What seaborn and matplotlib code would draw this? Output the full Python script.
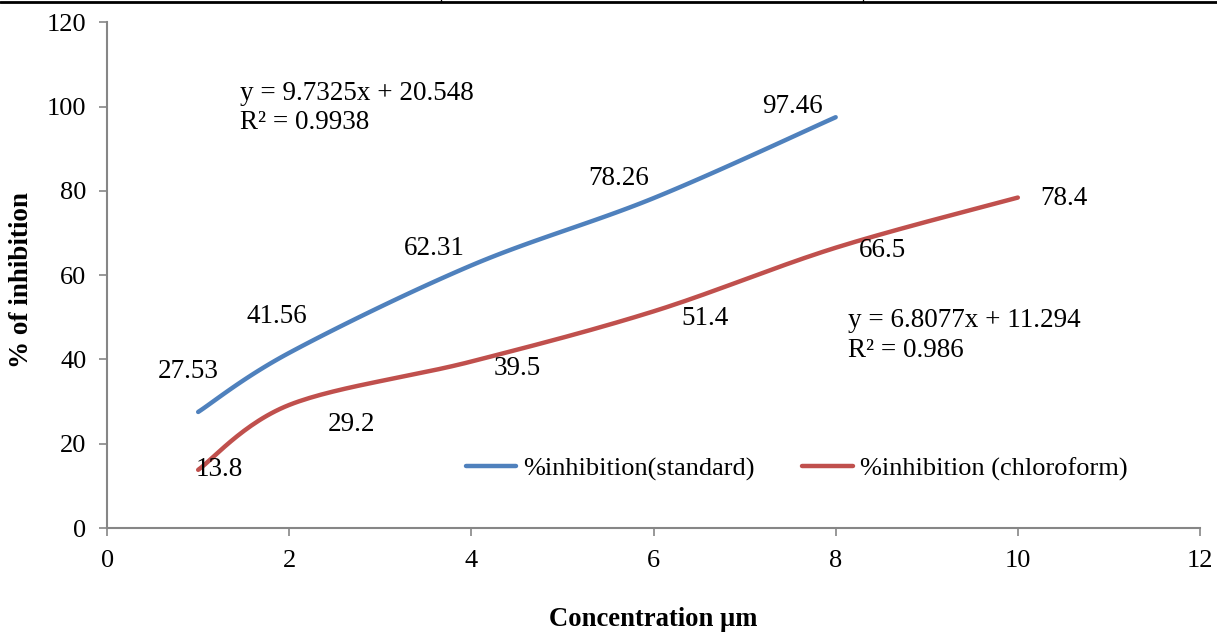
import numpy as np
import matplotlib
matplotlib.use("Agg")
import matplotlib.pyplot as plt
import seaborn as sns
from matplotlib.lines import Line2D

# data
conc_std = [1, 2, 4, 6, 8]
inhib_std = [27.53, 41.56, 62.31, 78.26, 97.46]
conc_chl = [1, 2, 4, 6, 8, 10]
inhib_chl = [13.8, 29.2, 39.5, 51.4, 66.5, 78.4]

eq_std = "y = 9.7325x + 20.548\nR² = 0.9938"
eq_chl = "y = 6.8077x + 11.294\nR² = 0.986"

BLUE = "#4F81BD"
RED = "#C0504D"
FS = 19.5

sns.set_theme(style="white")
plt.rcParams["font.family"] = ["Liberation Serif", "DejaVu Serif"]
plt.rcParams["text.color"] = "black"
plt.rcParams["xtick.labelcolor"] = "black"
plt.rcParams["ytick.labelcolor"] = "black"


def smooth(x, y, n=30):
    """Excel-like smoothed line: cubic bezier through points (catmull-rom tangents)"""
    x = np.asarray(x, float)
    y = np.asarray(y, float)
    P = np.column_stack([x, y])
    out = []
    for i in range(len(P) - 1):
        p0 = P[i - 1] if i > 0 else P[i]
        p1 = P[i]
        p2 = P[i + 1]
        p3 = P[i + 2] if i + 2 < len(P) else P[i + 1]
        c1 = p1 + (p2 - p0) / 6.0
        c2 = p2 - (p3 - p1) / 6.0
        t = np.linspace(0, 1, n)[:, None]
        seg = ((1 - t) ** 3) * p1 + 3 * ((1 - t) ** 2) * t * c1 + 3 * (1 - t) * t ** 2 * c2 + t ** 3 * p2
        out.append(seg if i == 0 else seg[1:])
    seg = np.vstack(out)
    return seg[:, 0], seg[:, 1]


fig = plt.figure(figsize=(12.17, 6.35), dpi=100)
ax = fig.add_axes([0.088, 0.1685, 0.898, 0.7965])

xs, ys = smooth(conc_std, inhib_std)
sns.lineplot(x=xs, y=ys, ax=ax, color=BLUE, lw=3.2, sort=False,
             solid_capstyle="round", label="%inhibition(standard)")
xc, yc = smooth(conc_chl, inhib_chl)
sns.lineplot(x=xc, y=yc, ax=ax, color=RED, lw=3.2, sort=False,
             solid_capstyle="round", label="%inhibition (chloroform)")

# data labels (offsets in points, like Excel's placement)
off_std = [(-7, 29), (-9, 26), (-27, 12), (-25, 14), (-31, 8)]
for x, y, o in zip(conc_std, inhib_std, off_std):
    ax.annotate(f"{y:g}", (x, y), xytext=o, textcoords="offset points",
                ha="center", va="center", fontsize=FS)
off_chl = [(15, 0), (45, -14), (33, -5), (37, -5), (34, -2), (33, -1)]
for x, y, o in zip(conc_chl, inhib_chl, off_chl):
    ax.annotate(f"{y:g}", (x, y), xytext=o, textcoords="offset points",
                ha="center", va="center", fontsize=FS)

ax.text(1.46, 99.6, eq_std, fontsize=FS, ha="left", va="center", linespacing=1.2)
ax.text(8.14, 45.7, eq_chl, fontsize=FS, ha="left", va="center", linespacing=1.25)

ax.set_xlim(0, 12)
ax.set_ylim(0, 120)
ax.set_xticks(range(0, 13, 2))
ax.set_yticks(range(0, 121, 20))
ax.tick_params(axis="both", labelsize=19, length=6, width=1.2, color="#868686",
               direction="out", left=True, bottom=True)
ax.tick_params(axis="y", pad=9)
ax.tick_params(axis="x", pad=10)
for s in ["top", "right"]:
    ax.spines[s].set_visible(False)
for s in ["left", "bottom"]:
    ax.spines[s].set_color("#868686")
    ax.spines[s].set_linewidth(1.5)

fig.text(22 / 1217, 1 - 280 / 635, "% of inhibition", fontsize=19.5, fontweight="bold",
         rotation=90, ha="center", va="center")
fig.text(653 / 1217, 1 - 620 / 635, "Concentration µm", fontsize=19.2, fontweight="bold",
         ha="center", va="center")

ax.legend(loc="center", bbox_to_anchor=(0.631, 0.117), ncol=2, frameon=False,
          fontsize=19, handlelength=1.9, handletextpad=0.28, columnspacing=1.8)

# page border remnants at top
fig.add_artist(Line2D([0, 1], [0.9975, 0.9975], color="black", lw=2))
for xv in [441 / 1217, 863 / 1217]:
    fig.add_artist(Line2D([xv, xv], [0.9975, 1.0], color="black", lw=1))

fig.savefig("out.png", dpi=100)
